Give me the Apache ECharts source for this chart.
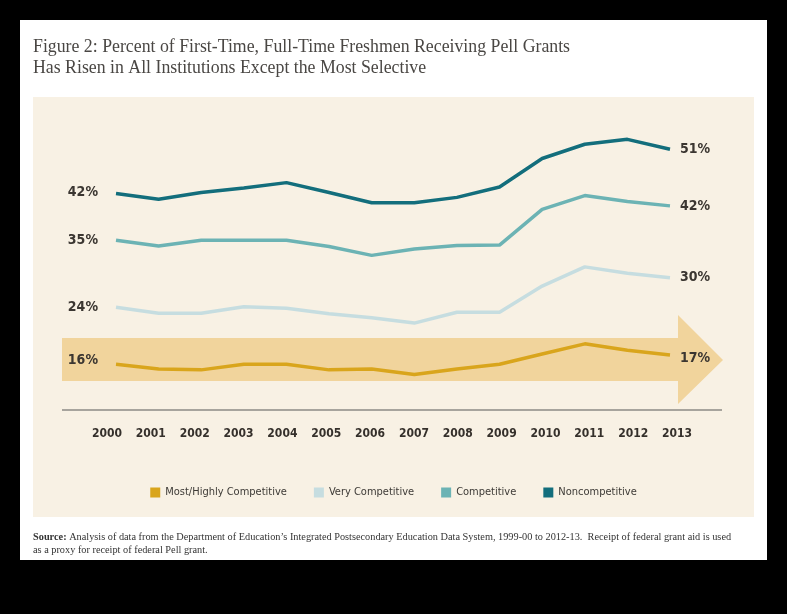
<!DOCTYPE html>
<html>
<head>
<meta charset="utf-8">
<script src="https://cdn.jsdelivr.net/npm/echarts@6/dist/echarts.min.js"></script>
<style>
html,body{margin:0;padding:0;background:#000;}
#page{position:absolute;left:20px;top:20px;width:747px;height:540px;background:#fff;}
#panel{position:absolute;left:33px;top:97px;width:721px;height:420px;background:#f8f1e4;}
#chart{position:absolute;left:0;top:0;width:787px;height:614px;}
</style>
</head>
<body>
<div id="page"></div>
<div id="panel"></div>
<div id="chart"></div>
<script>
const years = ['2000','2001','2002','2003','2004','2005','2006','2007','2008','2009','2010','2011','2012','2013'];
const seriesNames = ['Most/Highly Competitive','Very Competitive','Competitive','Noncompetitive'];
const mostHighly = [16, 15.5, 15.4, 16, 16, 15.4, 15.5, 14.9, 15.5, 16, 17.1, 18.2, 17.5, 17];
const veryComp = [24, 22.8, 22.8, 24.1, 23.8, 22.7, 21.9, 20.8, 23.0, 23.0, 28.3, 32.2, 30.9, 30];
const competitive = [35, 33.8, 35, 35, 35, 33.7, 31.9, 33.2, 33.9, 34.0, 41.3, 44.1, 42.9, 42];
const noncomp = [42, 40.8, 42.2, 43.1, 44.2, 42.2, 40.1, 40.1, 41.2, 43.3, 49.1, 52.0, 53.0, 51];

const colors = ['#d9a51c','#c6dde0','#6cb3b4','#136e7c'];
const labelFont = "'Liberation Sans Narrow','DejaVu Sans Condensed','Roboto',sans-serif";

// per-series scale ranges (the original graphic is drawn with per-line offsets)
const axisRanges = [[12.16, 44.42],[5.2, 66.05],[2.4, 63.6],[0, 61]];
const startOffsets = [[0,-4],[0,0],[0,0],[0,-1]];
const endOffsets = [[0,3],[0,0],[0,0],[0,0]];

const dataSets = [mostHighly, veryComp, competitive, noncomp];

const chart = echarts.init(document.getElementById('chart'), null, {renderer:'canvas'});

const yAxes = axisRanges.map(r => ({type:'value', gridIndex:0, min:r[0], max:r[1], show:false}));
yAxes.push({type:'value', gridIndex:1, show:false});

const series = dataSets.map((d, i) => ({
  name: seriesNames[i],
  type: 'line',
  xAxisIndex: 0,
  yAxisIndex: i,
  z: 5,
  symbol: 'circle',
  symbolSize: 0,
  showSymbol: true,
  smooth: false,
  color: colors[i],
  lineStyle: {color: colors[i], width: 3.5},
  itemStyle: {color: colors[i]},
  label: {show: false},
  data: d.map((v, j) => j === 0 ? {
    value: v,
    label: {show: true, position: 'left', distance: 18, offset: startOffsets[i],
      formatter: Math.round(v) + '%', fontFamily: labelFont, fontWeight: 'bold', fontSize: 14, color: '#3b3631'}
  } : v),
  endLabel: {show: true, distance: 10, offset: endOffsets[i],
    formatter: p => Math.round(p.value) + '%', fontFamily: labelFont, fontWeight: 'bold', fontSize: 14, color: '#3b3631'},
  emphasis: {disabled: true}
}));

chart.setOption({
  backgroundColor: 'transparent',
  animation: false,
  grid: [
    {left:116, right:117, top:100, height:300},
    {left:107, right:110, top:390, height:30}
  ],
  xAxis: [
    {type:'category', gridIndex:0, data: years, boundaryGap:false, show:false},
    {type:'category', gridIndex:1, data: years, boundaryGap:false,
     axisLine:{show:false}, axisTick:{show:false}, splitLine:{show:false},
     axisLabel:{interval:0, margin:8, fontFamily:labelFont, fontWeight:'bold', fontSize:12, color:'#35302b'}}
  ],
  yAxis: yAxes,
  legend: {
    data: seriesNames,
    left: 'center', top: 482,
    icon: 'rect', itemWidth: 10, itemHeight: 10, itemGap: 27,
    textStyle: {fontFamily: labelFont, fontSize: 11, color: '#3d3a36'}
  },
  graphic: {
    elements: [
      {type:'polygon', z:-10, silent:true,
       shape:{points:[[62,338],[678,338],[678,315],[723,360],[678,404],[678,381],[62,381]]},
       style:{fill:'#f1d49c'}},
      {type:'line', z:-5, silent:true, shape:{x1:62,y1:410,x2:722,y2:410},
       style:{stroke:'#8c8a86', lineWidth:1.5}},
      {type:'text', left:33, top:37, silent:true,
       style:{text:'Figure 2: Percent of First-Time, Full-Time Freshmen Receiving Pell Grants\nHas Risen in All Institutions Except the Most Selective',
              font:"17.8px 'Liberation Serif', serif", fill:'#4a4744', lineHeight:21}},
      {type:'text', left:33, top:531, silent:true,
       style:{text:'{b|Source:} Analysis of data from the Department of Education\u2019s Integrated Postsecondary Education Data System, 1999-00 to 2012-13.  Receipt of federal grant aid is used\nas a proxy for receipt of federal Pell grant.',
              font:"10.3px 'Liberation Serif', serif", fill:'#333', lineHeight:13,
              rich:{b:{font:"bold 10.3px 'Liberation Serif', serif", fill:'#333'}}}}
    ]
  },
  series: series
});
</script>
</body>
</html>
